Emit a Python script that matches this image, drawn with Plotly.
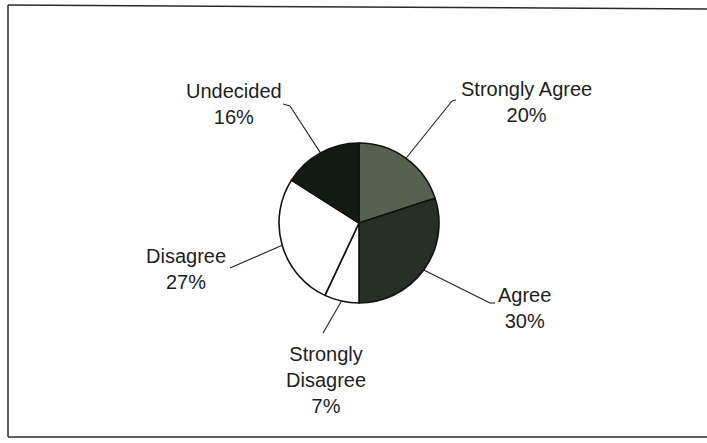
import math
import plotly.graph_objects as go

categories = ["Strongly Agree", "Agree", "Strongly Disagree", "Disagree", "Undecided"]
values = [20, 30, 7, 27, 16]
label_texts = ["Strongly Agree<br>20%", "Agree<br>30%", "Strongly<br>Disagree<br>7%", "Disagree<br>27%", "Undecided<br>16%"]
colors = ["#56624f", "#263026", "#ffffff", "#ffffff", "#131a13"]

W, H = 707, 443
CX, CY, R = 359, 223, 80

# label anchor (pixel) positions and elbow points for leader lines
label_pos = [(526, 102), (524, 308), (326, 380), (186, 269), (234, 104)]
elbows = [[(452, 101), (456, 100)], [(490, 303), (495, 303)], [(323, 333)], [(230, 268)], [(290, 106), (283, 104)]]

def px(x):
    return x / W

def py(y):
    return 1 - y / H

fig = go.Figure(go.Pie(
    labels=categories,
    values=values,
    sort=False,
    direction="clockwise",
    rotation=0,
    textinfo="none",
    hoverinfo="label+percent",
    marker=dict(colors=colors, line=dict(color="#111111", width=1.6)),
    domain=dict(x=[px(CX - R), px(CX + R)], y=[py(CY + R), py(CY - R)]),
    showlegend=False,
))

shapes = []
# frame
shapes.append(dict(type="line", xref="paper", yref="paper", x0=px(8), y0=py(5), x1=px(707), y1=py(9),
                   line=dict(color="#2a2a2a", width=1.5)))
shapes.append(dict(type="line", xref="paper", yref="paper", x0=px(8), y0=py(5), x1=px(8), y1=py(437),
                   line=dict(color="#2a2a2a", width=1.5)))
shapes.append(dict(type="line", xref="paper", yref="paper", x0=px(8), y0=py(437), x1=px(707), y1=py(437),
                   line=dict(color="#2a2a2a", width=1.5)))

total = sum(values)
cum = 0
annotations = []
for i, v in enumerate(values):
    mid = (cum + v / 2) / total * 2 * math.pi
    cum += v
    sx = CX + R * math.sin(mid)
    sy = CY - R * math.cos(mid)
    pts = [(sx, sy)] + elbows[i]
    for (x0, y0), (x1, y1) in zip(pts[:-1], pts[1:]):
        shapes.append(dict(type="line", xref="paper", yref="paper", x0=px(x0), y0=py(y0), x1=px(x1), y1=py(y1),
                           line=dict(color="#222222", width=1.1)))
    lx, ly = label_pos[i]
    annotations.append(dict(x=px(lx), y=py(ly), xref="paper", yref="paper", text=label_texts[i],
                            showarrow=False, xanchor="center", yanchor="middle", align="center",
                            font=dict(family="Liberation Sans, Arial, sans-serif", size=20, color="#1e1e1e")))

fig.update_layout(
    width=W, height=H,
    margin=dict(l=0, r=0, t=0, b=0),
    paper_bgcolor="white",
    plot_bgcolor="white",
    shapes=shapes,
    annotations=annotations,
)

fig.write_html("out.html")
